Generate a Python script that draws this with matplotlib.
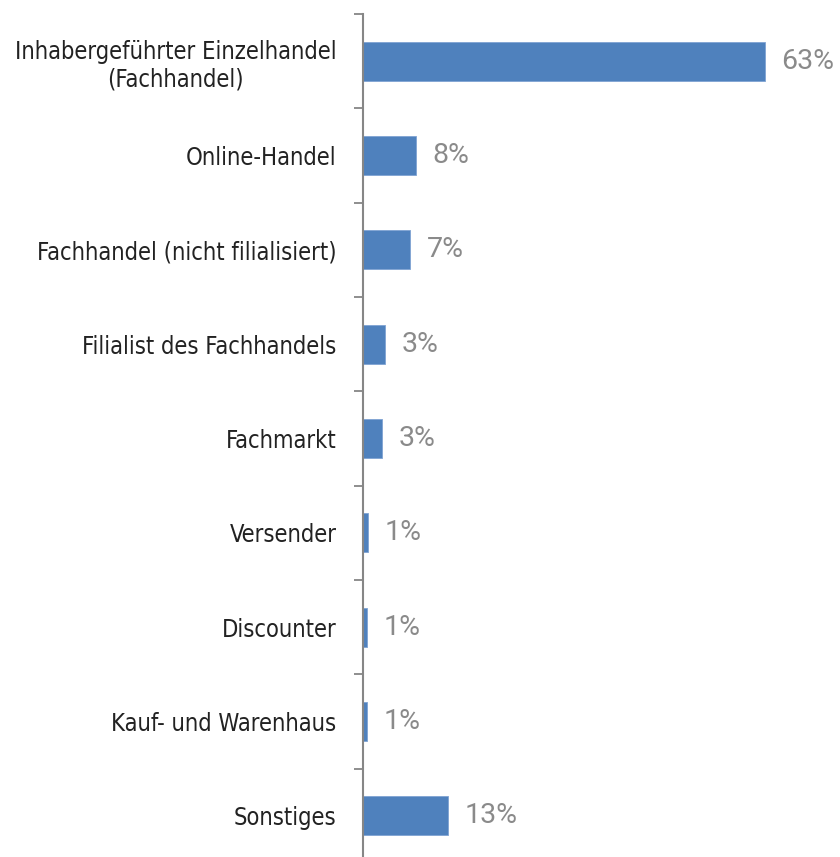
import matplotlib
matplotlib.use('Agg')
import matplotlib.pyplot as plt
import numpy as np

# Sales channel shares in percent
categories = [
    'Inhabergeführter Einzelhandel\n(Fachhandel)',
    'Online-Handel',
    'Fachhandel (nicht filialisiert)',
    'Filialist des Fachhandels',
    'Fachmarkt',
    'Versender',
    'Discounter',
    'Kauf- und Warenhaus',
    'Sonstiges',
]
shares = [63.0, 8.3, 7.4, 3.4, 2.9, 0.8, 0.6, 0.6, 13.3]

bar_color = '#4f81bd'
axis_color = '#868686'
label_color = '#8a8a8a'

fig = plt.figure(figsize=(8.4, 8.57), dpi=100)
ax = fig.add_axes([363 / 840, -6 / 857, 477 / 840, 849 / 857])

y = np.arange(len(categories))
ax.barh(y, shares, height=0.41, color=bar_color, edgecolor='#7fa3d3', linewidth=0.6)

ax.set_xlim(0, 477 / 6.38)
ax.set_ylim(len(categories) - 0.5, -0.5)

# value labels right of each bar
for yi, v in zip(y, shares):
    ax.annotate(f'{v:.0f}%', xy=(v, yi), xytext=(12, 0), textcoords='offset points',
                va='center', ha='left', fontsize=20.5, color=label_color,
                family=['Roboto', 'DejaVu Sans'])

# category boundaries as ticks, names centred in each band
ax.set_yticks(y)
ax.set_yticklabels(categories, fontsize=17, family='DejaVu Sans', fontstretch='condensed',
                   color='#222222', multialignment='center')
ax.set_yticks(np.arange(len(categories) + 1) - 0.5, minor=True)
ax.tick_params(axis='y', which='major', length=0, pad=19)
ax.tick_params(axis='y', which='minor', length=6.5, width=1.3, color=axis_color)
ax.xaxis.set_visible(False)

for side in ['top', 'right', 'bottom']:
    ax.spines[side].set_visible(False)
ax.spines['left'].set_color(axis_color)
ax.spines['left'].set_linewidth(1.5)

fig.savefig('out.png', dpi=100)
